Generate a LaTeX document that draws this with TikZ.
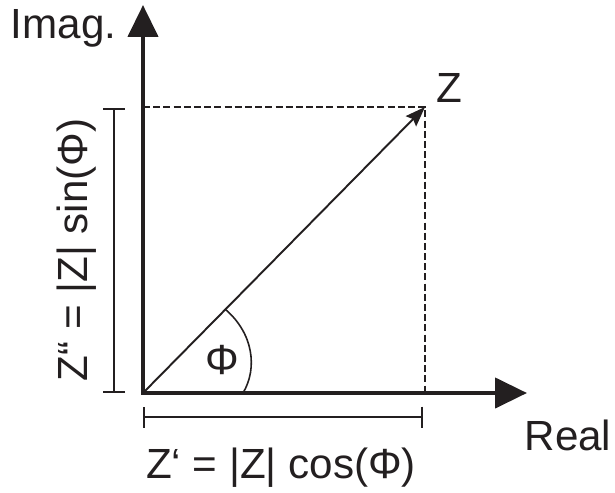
\documentclass[tikz,border=0pt]{standalone}
\usepackage{fontspec}
\setmainfont{Liberation Sans}
\usetikzlibrary{arrows.meta}
\definecolor{ink}{RGB}{35,31,32}

\begin{document}
\begin{tikzpicture}[font=\fontsize{24}{28}\selectfont, ink,
        axis/.style={line width=2.5pt, line join=miter,
            {Triangle[length=0.64cm, width=0.6cm]}-{Triangle[length=0.64cm, width=0.6cm]}},
        vec/.style={line width=1.1pt, -{Stealth[length=0.4cm, width=0.29cm, inset=0.06cm]}},
        helper/.style={line width=0.9pt, dash pattern=on 4pt off 1.8pt},
        dimline/.style={line width=1pt},
        lbl/.style={anchor=base, inner sep=0pt}]
    \useasboundingbox (-2.86,-1.98) rectangle (9.44,7.86);

    \coordinate (O) at (0,0);
    \coordinate (imtip) at (0,7.76);
    \coordinate (retip) at (7.68,0);
    \coordinate (Z) at (5.64,5.72);
    \coordinate (Zx) at (5.64,0);
    \coordinate (Zy) at (0,5.72);

    % dashed projections
    \draw[helper] (Zy) -- (Z) -- (Zx);

    % axes
    \draw[axis] (imtip) -- (O) -- (retip);

    % pointer
    \draw[vec] (O) -- (Z);

    % angle
    \draw[line width=0.9pt] (2.0,0) .. controls (2.3,0.5) and (2.2,1.2) .. (1.65,1.67);
    \node (phi) at (1.58,0.66) {Φ};

    % dimension lines
    \draw[dimline, {Bar[width=0.42cm]}-{Bar[width=0.42cm]}] (0,-0.48) coordinate (re0) -- (5.6,-0.48) coordinate (re1);
    \draw[dimline, {Bar[width=0.44cm]}-{Bar[width=0.44cm]}] (-0.58,0) coordinate (im0) -- (-0.58,5.7) coordinate (im1);

    % labels
    \node[lbl] (imag) at (-1.59,7.08) {Imag.};
    \node[lbl] (real) at (8.5,-1.14) {Real};
    \node[lbl] (zname) at (6.13,5.8) {Z};
    \node[lbl] (zre) at (2.76,-1.7) {Z‘ = |Z| cos(Φ)};
    \node[lbl, rotate=90] (zim) at (-1.1,2.86) {Z“ = |Z| sin(Φ)};
\end{tikzpicture}
\end{document}
